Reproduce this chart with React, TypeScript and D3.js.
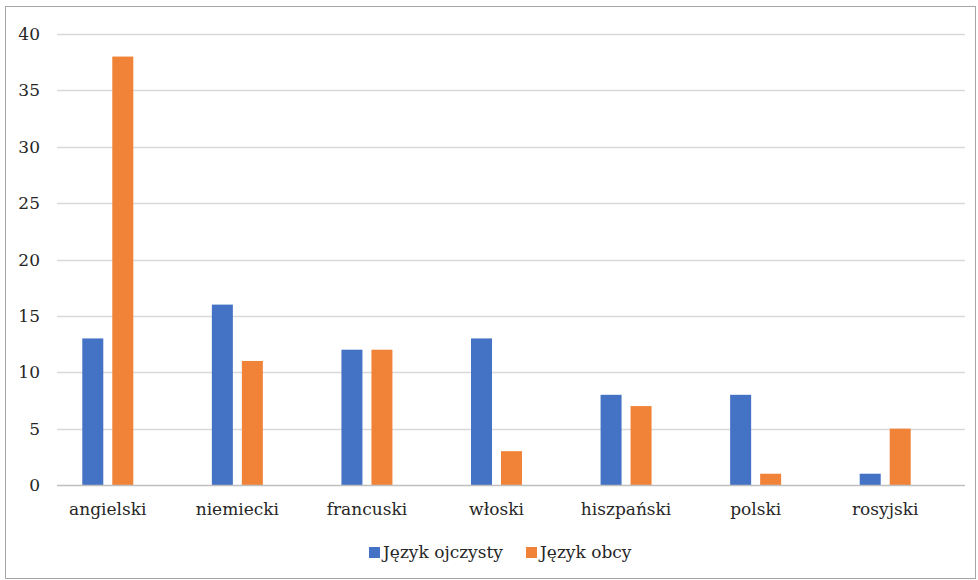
import React, { useEffect, useRef } from "react";
import * as d3 from "d3";

const categories = ["angielski", "niemiecki", "francuski", "włoski", "hiszpański", "polski", "rosyjski"];
const seriesNames = ["Język ojczysty", "Język obcy"];
const nativeValues = [13, 16, 12, 13, 8, 8, 1];
const foreignValues = [38, 11, 12, 3, 7, 1, 5];
const yTicks = [0, 5, 10, 15, 20, 25, 30, 35, 40];
const colors = ["#4472C4", "#F08337"];

export default function App() {
  const svgRef = useRef<SVGSVGElement>(null);

  useEffect(() => {
    const svg = d3.select(svgRef.current);
    svg.selectAll("*").remove();

    // Times-like serif is not available, DejaVu Serif is the closest installed
    const font = "'DejaVu Serif', serif";

    // outer frame
    svg
      .append("rect")
      .attr("x", 5.5)
      .attr("y", 6.5)
      .attr("width", 970)
      .attr("height", 572)
      .attr("fill", "#fff")
      .attr("stroke", "#a6a6a6")
      .attr("stroke-width", 1);

    const gridLeft = 57;
    const gridRight = 965;

    const yScale = d3.scaleLinear().domain([0, 40]).range([485, 34]);

    const xScale = d3
      .scaleBand<string>()
      .domain(categories)
      .range([43, 950]);

    const inner = d3
      .scaleBand<number>()
      .domain([0, 1])
      .range([0, 51])
      .paddingInner(0.3);

    // gridlines
    svg
      .append("g")
      .selectAll("line")
      .data(yTicks.filter((t) => t > 0))
      .enter()
      .append("line")
      .attr("x1", gridLeft)
      .attr("x2", gridRight)
      .attr("y1", (d) => Math.round(yScale(d)) + 0.5)
      .attr("y2", (d) => Math.round(yScale(d)) + 0.5)
      .attr("stroke", "#d9d9d9")
      .attr("stroke-width", 1.3);

    const textG = svg.append("g").style("font-family", font).attr("fill", "#262626").style("font-size", "17px");

    // y tick labels
    textG
      .append("g")
      .selectAll("text")
      .data(yTicks)
      .enter()
      .append("text")
      .attr("x", 40)
      .attr("y", (d) => yScale(d))
      .attr("dy", "0.36em")
      .attr("text-anchor", "end")
      .text((d) => d);

    // bars
    const series = [nativeValues, foreignValues];
    series.forEach((values, si) => {
      svg
        .append("g")
        .selectAll("rect")
        .data(values)
        .enter()
        .append("rect")
        .attr("x", (d, i) => xScale(categories[i])! + xScale.bandwidth() / 2 - 25.5 + inner(si)!)
        .attr("y", (d) => yScale(d))
        .attr("width", inner.bandwidth())
        .attr("height", (d) => yScale(0) - yScale(d))
        .attr("fill", colors[si]);
    });

    // x axis baseline
    svg
      .append("line")
      .attr("x1", gridLeft)
      .attr("x2", gridRight)
      .attr("y1", yScale(0) + 0.5)
      .attr("y2", yScale(0) + 0.5)
      .attr("stroke", "#bfbfbf")
      .attr("stroke-width", 1.5);

    // category labels
    textG
      .append("g")
      .selectAll("text")
      .data(categories)
      .enter()
      .append("text")
      .attr("x", (d) => xScale(d)! + xScale.bandwidth() / 2)
      .attr("y", 515)
      .attr("text-anchor", "middle")
      .text((d) => d);

    // legend
    const legendX = [369, 526];
    seriesNames.forEach((name, i) => {
      svg
        .append("rect")
        .attr("x", legendX[i])
        .attr("y", 547)
        .attr("width", 11)
        .attr("height", 11)
        .attr("fill", colors[i]);
      textG
        .append("text")
        .attr("x", legendX[i] + 14)
        .attr("y", 558)
        .text(name);
    });
  }, []);

  return (
    <svg
      ref={svgRef}
      width={978}
      height={580}
      style={{ position: "absolute", left: 0, top: 0 }}
    ></svg>
  );
}
